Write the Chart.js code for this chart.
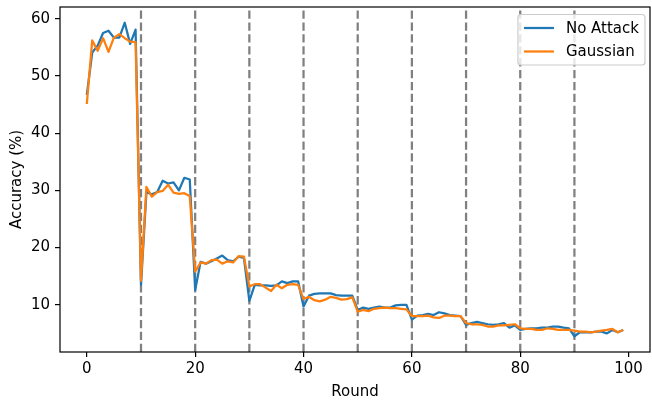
<!DOCTYPE html>
<html>
<head>
<meta charset="utf-8">
<script src="https://cdn.jsdelivr.net/npm/chart.js@4"></script>
<style>
  html, body { margin: 0; padding: 0; background: #fff; }
  #wrap { width: 652px; height: 402px; position: relative; }
</style>
</head>
<body>
<div id="wrap"><canvas id="accChart"></canvas></div>
<script>
const rounds = Array.from({ length: 100 }, (_, i) => i);

const noAttack = [
  46.7, 54.1, 55.3, 57.5, 57.9, 56.7, 56.7, 59.3, 55.6, 58.1,
  13.5, 29.7, 29.3, 29.7, 31.7, 31.2, 31.4, 30.0, 32.2, 31.9,
  12.6, 17.5, 17.2, 17.6, 18.1, 18.6, 17.8, 17.6, 18.4, 18.2,
  10.7, 13.5, 13.4, 13.4, 13.3, 13.4, 14.1, 13.8, 14.1, 14.1,
  9.7, 11.6, 11.9, 12.0, 12.0, 12.0, 11.7, 11.6, 11.6, 11.6,
  9.1, 9.5, 9.3, 9.5, 9.7, 9.5, 9.5, 9.9, 10.0, 10.0,
  7.4, 8.1, 8.2, 8.4, 8.2, 8.7, 8.5, 8.2, 8.1, 8.0,
  6.5, 6.8, 7.0, 6.8, 6.6, 6.5, 6.6, 6.8, 6.0, 6.4,
  5.6, 5.8, 5.9, 5.9, 6.0, 6.0, 6.2, 6.2, 6.0, 5.9,
  4.5, 5.2, 5.2, 5.2, 5.3, 5.3, 5.0, 5.6, 5.2, 5.6
];

const gaussian = [
  45.1, 56.2, 54.4, 56.6, 54.2, 56.7, 57.3, 56.6, 56.0, 55.9,
  14.2, 30.6, 28.9, 29.7, 29.9, 31.0, 29.6, 29.4, 29.5, 29.0,
  15.8, 17.4, 17.2, 17.8, 17.9, 17.2, 17.6, 17.4, 18.5, 18.4,
  13.2, 13.6, 13.6, 13.0, 12.4, 13.5, 12.9, 13.5, 13.6, 13.5,
  11.0, 11.4, 10.8, 10.6, 10.9, 11.4, 11.2, 10.9, 11.0, 11.3,
  8.8, 9.1, 8.9, 9.3, 9.4, 9.5, 9.4, 9.4, 9.3, 9.2,
  8.0, 8.0, 8.0, 8.1, 7.8, 7.7, 8.1, 8.1, 8.0, 8.0,
  6.8, 6.6, 6.6, 6.5, 6.2, 6.2, 6.4, 6.4, 6.5, 6.6,
  5.9, 5.8, 5.8, 5.6, 5.6, 5.9, 5.8, 5.6, 5.6, 5.6,
  5.5, 5.3, 5.3, 5.2, 5.3, 5.5, 5.6, 5.8, 5.2, 5.6
];

const attackRounds = [10, 20, 30, 40, 50, 60, 70, 80, 90];
const xTicks = [0, 20, 40, 60, 80, 100];
const yTicks = [10, 20, 30, 40, 50, 60];

const FONT = 'DejaVu Sans';

// dashed round markers, full frame and a matplotlib-like legend
const extras = {
  id: 'extras',
  beforeDatasetsDraw(chart) {
    const { ctx, chartArea: a, scales: { x } } = chart;
    ctx.save();
    ctx.strokeStyle = '#808080';
    ctx.lineWidth = 2.25;
    ctx.setLineDash([8.3, 3.6]);
    attackRounds.forEach(r => {
      const px = x.getPixelForValue(r);
      ctx.beginPath();
      ctx.moveTo(px, a.bottom);
      ctx.lineTo(px, a.top);
      ctx.stroke();
    });
    ctx.restore();
  },
  afterDraw(chart) {
    const { ctx, chartArea: a } = chart;
    ctx.save();
    ctx.strokeStyle = '#000';
    ctx.lineWidth = 1.2;
    ctx.strokeRect(a.left, a.top, a.right - a.left, a.bottom - a.top);

    ctx.font = `15px "${FONT}"`;
    const items = chart.data.datasets;
    const textW = Math.max(...items.map(d => ctx.measureText(d.label).width));
    const pad = 6, rowH = 15, gap = 8.5, handle = 30, hpad = 12;
    const w = pad * 2 + handle + hpad + textW;
    const h = pad * 2 + rowH * items.length + gap * (items.length - 1);
    const right = a.right - 5, top = a.top + 7.5;
    const left = right - w;

    ctx.beginPath();
    ctx.roundRect(left, top, w, h, 3);
    ctx.fillStyle = 'rgba(255,255,255,0.8)';
    ctx.fill();
    ctx.strokeStyle = '#cccccc';
    ctx.lineWidth = 1.2;
    ctx.stroke();

    items.forEach((d, i) => {
      const cy = top + pad + rowH / 2 + i * (rowH + gap);
      ctx.beginPath();
      ctx.strokeStyle = d.borderColor;
      ctx.lineWidth = 2.25;
      ctx.moveTo(left + pad, cy);
      ctx.lineTo(left + pad + handle, cy);
      ctx.stroke();
      ctx.fillStyle = '#000';
      ctx.textBaseline = 'middle';
      ctx.textAlign = 'left';
      ctx.fillText(d.label, left + pad + handle + hpad, cy + 1);
    });
    ctx.restore();
  }
};

function series(values) {
  return rounds.map((r, i) => ({ x: r, y: values[i] }));
}

const tickFont = { family: FONT, size: 15 };

new Chart(document.getElementById('accChart'), {
  type: 'line',
  data: {
    datasets: [
      {
        label: 'No Attack',
        data: series(noAttack),
        borderColor: '#1f77b4',
        borderWidth: 2.25,
        borderJoinStyle: 'round',
        pointRadius: 0,
        tension: 0,
        fill: false,
        order: 1
      },
      {
        label: 'Gaussian',
        data: series(gaussian),
        borderColor: '#ff7f0e',
        borderWidth: 2.25,
        borderJoinStyle: 'round',
        pointRadius: 0,
        tension: 0,
        fill: false,
        order: 0
      }
    ]
  },
  options: {
    responsive: true,
    maintainAspectRatio: false,
    animation: false,
    layout: { padding: { top: 7, right: 2, left: 0, bottom: 0 } },
    plugins: {
      legend: { display: false },
      tooltip: { enabled: false }
    },
    scales: {
      x: {
        type: 'linear',
        min: -4.95,
        max: 103.95,
        afterBuildTicks: s => { s.ticks = xTicks.map(v => ({ value: v })); },
        afterFit: s => { s.height = 50; s.paddingLeft = 0; s.paddingRight = 0; },
        border: { display: false },
        grid: { drawOnChartArea: false, drawTicks: true, tickLength: 5, tickColor: '#000', lineWidth: 1.2 },
        ticks: { color: '#000', font: tickFont, padding: 3, maxRotation: 0 },
        title: { display: true, text: 'Round', color: '#000', font: tickFont, padding: { top: 0, bottom: 1 } }
      },
      y: {
        min: 1.75,
        max: 62.05,
        afterBuildTicks: s => { s.ticks = yTicks.map(v => ({ value: v })); },
        afterFit: s => { s.width = 60; s.paddingTop = 0; s.paddingBottom = 0; },
        border: { display: false },
        grid: { drawOnChartArea: false, drawTicks: true, tickLength: 5, tickColor: '#000', lineWidth: 1.2 },
        ticks: { color: '#000', font: tickFont, padding: 5 },
        title: { display: true, text: 'Accuracy (%)', color: '#000', font: tickFont, padding: { top: 8, bottom: 0 } }
      }
    }
  },
  plugins: [extras]
});
</script>
</body>
</html>
